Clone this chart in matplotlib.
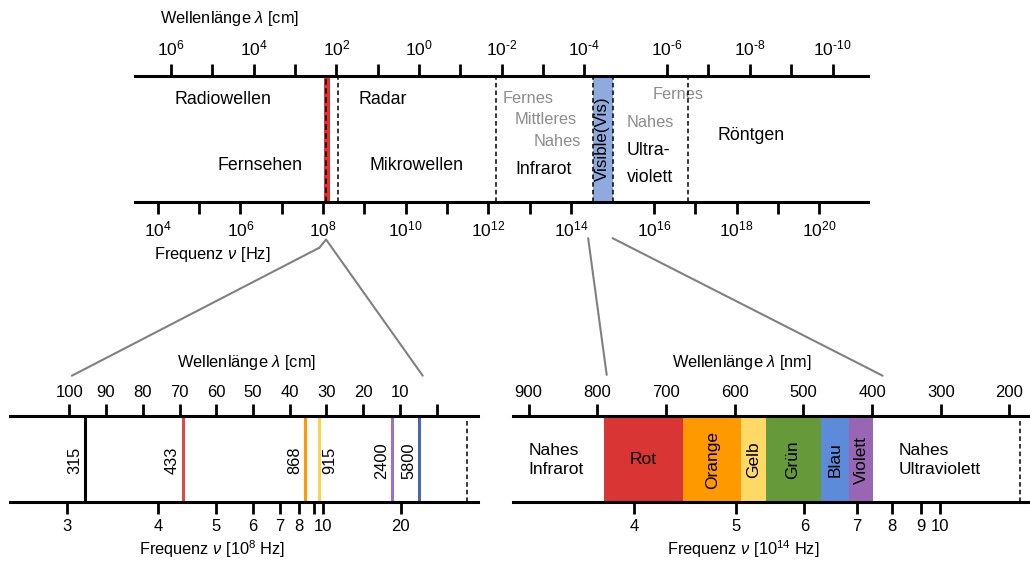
import matplotlib.pyplot as plt
from matplotlib.patches import ConnectionPatch

plt.rcParams['font.family'] = ['Liberation Sans', 'DejaVu Sans']
plt.rcParams['mathtext.fontset'] = 'custom'
plt.rcParams['mathtext.rm'] = 'Liberation Sans'
plt.rcParams['mathtext.it'] = 'Liberation Sans:italic'

W, H = 1030, 561
GREY = '#8c8c8c'

# overview, x = log10(frequency / Hz)
top_freq_exp = [4, 5, 6, 7, 8, 9, 10, 11, 12, 13, 14, 16, 17, 18, 19, 20]
top_wl_exp = [6, 5, 4, 3, 2, 1, 0, -1, -2, -3, -4, -6, -7, -8, -9, -10]
wl_offset = 10.32  # log nu = wl_offset - log lambda, as drawn
top_dashed = [8.37, 12.17, 16.83]
tv_band = (8.03, 8.17)
vis_band = (14.52, 15.0)
top_labels = [
    ('Radiowellen', 5.58, 0.81, 'k', 'center'),
    ('Fernsehen', 6.47, 0.29, 'k', 'center'),
    ('Radar', 9.45, 0.81, 'k', 'center'),
    ('Mikrowellen', 10.27, 0.29, 'k', 'center'),
    ('Fernes', 12.33, 0.82, GREY, 'left'),
    ('Mittleres', 12.64, 0.65, GREY, 'left'),
    ('Nahes', 13.08, 0.475, GREY, 'left'),
    ('Infrarot', 12.64, 0.26, 'k', 'left'),
    ('Fernes', 15.98, 0.85, GREY, 'left'),
    ('Nahes', 15.35, 0.634, GREY, 'left'),
    ('Ultra-', 15.35, 0.41, 'k', 'left'),
    ('violett', 15.35, 0.196, 'k', 'left'),
    ('Röntgen', 18.34, 0.53, 'k', 'center'),
]

# radio detail, x = wavelength in cm
radio_wl_ticks = [100, 90, 80, 70, 60, 50, 40, 30, 20, 10, 0]
radio_wl_labels = ['100', '90', '80', '70', '60', '50', '40', '30', '20', '10', '']
radio_freq_pos = [100.7, 75.8, 60.1, 50.1, 42.7, 37.5, 33.4, 30.9, 9.8]
radio_freq_labels = ['3', '4', '5', '6', '7', '8', '', '10', '20']
channel_mhz = ['315', '433', '868', '915', '2400', '5800']
channel_wl = [95.7, 69.1, 35.8, 32.0, 12.25, 4.8]
channel_colors = ['#000000', '#e04848', '#ff9900', '#ffd24d', '#9d72c4', '#4a68b0']
channel_side = [-1, -1, -1, 1, -1, -1]
radio_edge = -8.2

# visible detail, x = wavelength in nm
vis_wl_ticks = [900, 800, 700, 600, 500, 400, 300, 200]
vis_freq_pos = [746, 598, 498.6, 422.4, 370.6, 329.2, 301.1]
vis_freq_labels = ['4', '5', '6', '7', '8', '9', '10']
color_names = ['Rot', 'Orange', 'Gelb', 'Grün', 'Blau', 'Violett']
color_edges = [790, 675, 590, 555, 475, 433, 399]
color_fills = ['#d93535', '#ff9900', '#ffd966', '#66993a', '#5b8bd9', '#9966b3']
vis_edge = 185


def panel(fig, x0, x1, ytop, ybot, xlim):
    ax = fig.add_axes([x0 / W, 1 - ybot / H, (x1 - x0) / W, (ybot - ytop) / H])
    ax.set_xlim(*xlim)
    ax.set_ylim(0, 1)
    ax.set_yticks([])
    for s in ['left', 'right']:
        ax.spines[s].set_visible(False)
    for s in ['top', 'bottom']:
        ax.spines[s].set_linewidth(2.2)
    ax.patch.set_alpha(0)
    tw = ax.twiny()
    tw.set_xlim(*xlim)
    for s in tw.spines.values():
        s.set_visible(False)
    return ax, tw


def style_ticks(ax, size, pad):
    ax.tick_params(axis='x', direction='out', length=8.5, width=2.0,
                   labelsize=size, pad=pad)


def pow_label(e):
    if e % 2:
        return ''
    if e < 0:
        return '$10^{\\text{-}%d}$' % -e
    return '$10^{%d}$' % e


fig = plt.figure(figsize=(W / 100, H / 100), dpi=100)
fig.patch.set_facecolor('white')

# ---- overview
ax, tw = panel(fig, 135, 868, 76, 201.7, (3.451, 21.178))
ax.set_xticks(top_freq_exp)
ax.set_xticklabels([pow_label(e) for e in top_freq_exp])
style_ticks(ax, 12.5, 4.5)
tw.set_xticks([wl_offset - e for e in top_wl_exp])
tw.set_xticklabels([pow_label(e) for e in top_wl_exp])
style_ticks(tw, 12.5, 4)

ax.axvspan(*tv_band, color='#e03030', lw=0)
ax.axvline(8.08, color='k', lw=1.3, ls=(0, (3, 2)))
ax.axvspan(*vis_band, color='#8eaadf', lw=0)
for x in list(vis_band) + top_dashed:
    ax.axvline(x, color='k', lw=1.1, ls=(0, (3, 2)), zorder=4)
for txt, x, y, c, ha in top_labels:
    ax.text(x, y, txt, color=c, ha=ha, va='center',
            fontsize=12.8 if c == 'k' else 11.8, zorder=1)
ax.text(sum(vis_band) / 2, 0.5, 'Visible(Vis)', rotation=90, ha='center',
        va='center', fontsize=12.2)
top_ax = ax

# ---- radio detail
ax, tw = panel(fig, 10, 478, 415.7, 501.7, (116.14, -11.24))
ax.set_xticks(radio_freq_pos)
ax.set_xticklabels(radio_freq_labels)
style_ticks(ax, 12, 4)
tw.set_xticks(radio_wl_ticks)
tw.set_xticklabels(radio_wl_labels)
style_ticks(tw, 12, 3)
for mhz, wl, c, side in zip(channel_mhz, channel_wl, channel_colors, channel_side):
    ax.axvline(wl, color=c, lw=2.2)
    ax.annotate(mhz, (wl, 0.48), xytext=(side * 7.5, 0), textcoords='offset points',
                rotation=90, ha='center', va='center', fontsize=11.8)
ax.axvline(radio_edge, color='k', lw=1.1, ls=(0, (3, 2)))
radio_ax = ax

# ---- visible detail
ax, tw = panel(fig, 512.7, 1030, 416, 501.7, (923.0, 170.1))
ax.set_xticks(vis_freq_pos)
ax.set_xticklabels(vis_freq_labels)
style_ticks(ax, 12, 4)
tw.set_xticks(vis_wl_ticks)
tw.set_xticklabels([str(v) for v in vis_wl_ticks])
style_ticks(tw, 12, 3)
for i, name in enumerate(color_names):
    lo, hi = color_edges[i + 1], color_edges[i]
    ax.axvspan(lo, hi, color=color_fills[i], lw=0)
    ax.text((lo + hi) / 2, 0.49, name, ha='center', va='center', fontsize=12.5,
            rotation=0 if name == 'Rot' else 90)
ax.text(900, 0.49, 'Nahes\nInfrarot', ha='left', va='center', fontsize=12.5,
        linespacing=1.3)
ax.text(361.5, 0.49, 'Nahes\nUltraviolett', ha='left', va='center', fontsize=12.5,
        linespacing=1.3)
ax.axvline(vis_edge, color='k', lw=1.1, ls=(0, (3, 2)))
vis_ax = ax

# ---- zoom connectors
links = [
    ((8.05, -0.31), (7.91, -0.366), radio_ax, (99.3, 1.465)),
    ((8.07, -0.30), None, radio_ax, (3.8, 1.465)),
    ((14.41, -0.29), None, vis_ax, (786.2, 1.48)),
    ((15.0, -0.29), None, vis_ax, (384.5, 1.47)),
]
for start, kink, dest, end in links:
    a = start
    if kink is not None:
        top_ax.plot([start[0], kink[0]], [start[1], kink[1]], color='#808080',
                    lw=1.5, clip_on=False)
        a = kink
    cp = ConnectionPatch(xyA=a, coordsA=top_ax.transData, xyB=end,
                         coordsB=dest.transData, color='#808080', lw=1.5)
    fig.add_artist(cp)

# ---- axis titles
def ftext(x, y, s, ha='left'):
    fig.text(x / W, 1 - y / H, s, ha=ha, va='center', fontsize=11.8)


ftext(160, 18, 'Wellenlänge $\\lambda$ [cm]')
ftext(154, 254, 'Frequenz $\\nu$ [Hz]')
ftext(247, 363, 'Wellenlänge $\\lambda$ [cm]', 'center')
ftext(212, 549, 'Frequenz $\\nu$ [10$^{8}$ Hz]', 'center')
ftext(741.7, 363, 'Wellenlänge $\\lambda$ [nm]', 'center')
ftext(743, 549, 'Frequenz $\\nu$ [10$^{14}$ Hz]', 'center')

fig.savefig('out.png', dpi=100)
